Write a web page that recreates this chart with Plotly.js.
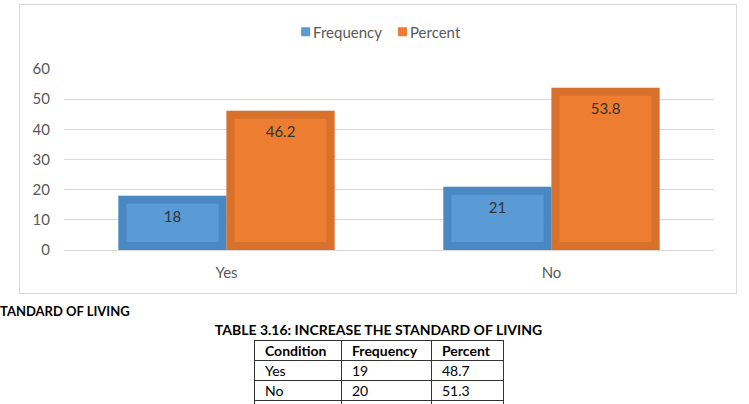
<!DOCTYPE html>
<html>
<head>
<meta charset="utf-8">
<script src="https://cdn.plot.ly/plotly-3.0.1.min.js"></script>
<style>
  html, body { margin: 0; padding: 0; background: #ffffff; width: 749px; height: 404px; overflow: hidden; }
  body { position: relative; font-family: Lato, "Open Sans", "Liberation Sans", sans-serif; }
  #frame { position: absolute; left: 19px; top: 4px; width: 716px; height: 288px; border: 1px solid #d9d9d9; box-sizing: content-box; }
  #chart { position: absolute; left: 0; top: 0; width: 749px; height: 300px; }
  #caption { position: absolute; left: 0; top: 303px; font-weight: bold; font-size: 13px; color: #000; white-space: nowrap; }
  #tabletitle { position: absolute; left: 0; width: 757px; top: 321px; text-align: center; font-weight: bold; font-size: 14px; color: #000; white-space: nowrap; }
  #tbl { position: absolute; left: 254px; top: 340px; border-collapse: collapse; font-size: 14px; color: #000; }
  #tbl td, #tbl th { border: 1px solid #333; height: 20px; padding: 0 0 0 10px; text-align: left; box-sizing: border-box; line-height: 18px; }
  #tbl th { font-weight: bold; }
</style>
</head>
<body>
<div id="frame"></div>
<div id="chart"></div>
<div id="caption">TANDARD OF LIVING</div>
<div id="tabletitle">TABLE 3.16: INCREASE THE STANDARD OF LIVING</div>
<table id="tbl"></table>
<script>
// ---- chart data ----
const categories = ['Yes', 'No'];
const frequency = [18, 21];
const percent = [46.2, 53.8];
const yTicks = [0, 10, 20, 30, 40, 50, 60];

// ---- table data ----
const tableHeader = ['Condition', 'Frequency', 'Percent'];
const tableConditions = ['Yes', 'No', ''];
const tableFrequency = ['19', '20', ''];
const tablePercent = ['48.7', '51.3', ''];
const colWidths = [87, 90, 72];

const FONT = 'Lato, "Open Sans", "Liberation Sans", sans-serif';

const traces = [
  {
    type: 'bar', name: 'Frequency', x: categories, y: frequency,
    marker: { color: '#5b9bd5', line: { color: '#4a88c4', width: 16 } },
    text: frequency.map(String), textposition: 'inside', insidetextanchor: 'end',
    textfont: { family: FONT, size: 15, color: '#333333' }, constraintext: 'none',
    hoverinfo: 'none'
  },
  {
    type: 'bar', name: 'Percent', x: categories, y: percent,
    marker: { color: '#ed7d31', line: { color: '#d8712b', width: 16 } },
    text: percent.map(String), textposition: 'inside', insidetextanchor: 'end',
    textfont: { family: FONT, size: 15, color: '#333333' }, constraintext: 'none',
    hoverinfo: 'none'
  }
];

const layout = {
  width: 749, height: 300,
  margin: { l: 64, r: 35, t: 69, b: 50, pad: 0 },
  paper_bgcolor: 'rgba(0,0,0,0)', plot_bgcolor: 'rgba(0,0,0,0)',
  barmode: 'group', bargap: 0.335, bargroupgap: 0,
  font: { family: FONT, size: 14, color: '#595959' },
  showlegend: true,
  legend: {
    orientation: 'h', x: 0.488, xanchor: 'center', y: 1.204, yanchor: 'middle',
    font: { family: FONT, size: 15, color: '#595959' }, itemwidth: 30,
    bgcolor: 'rgba(0,0,0,0)'
  },
  xaxis: {
    type: 'category', showgrid: false, zeroline: false, showline: false, ticks: '',
    tickfont: { family: FONT, size: 15, color: '#595959' }, ticklabelstandoff: 12,
    fixedrange: true
  },
  yaxis: {
    range: [0, 60], tickvals: yTicks, ticktext: yTicks.map(String),
    showgrid: true, gridcolor: '#d9d9d9', gridwidth: 1,
    zeroline: true, zerolinecolor: '#d9d9d9', zerolinewidth: 1,
    showline: false, ticks: '',
    tickfont: { family: FONT, size: 15, color: '#595959' }, ticklabelstandoff: 13,
    fixedrange: true
  }
};

const LEGEND_CENTER_X = 381;   // visual centre of the legend row (px)
const LABEL_DROP = 8;          // extra downward offset of in-bar labels (px)

function parseTranslate(s) {
  const m = /translate\(\s*([-\d.]+)[ ,]*([-\d.]*)\s*\)/.exec(s || '');
  return m ? [parseFloat(m[1]), parseFloat(m[2] || 0)] : [0, 0];
}

function restyleDom(gd) {
  const ns = 'http://www.w3.org/2000/svg';
  const svg = gd.querySelector('svg.main-svg');
  if (!svg) return;
  let defs = svg.querySelector('defs');
  if (!defs) { defs = document.createElementNS(ns, 'defs'); svg.insertBefore(defs, svg.firstChild); }

  // thick border kept inside each bar (inset bevel look)
  gd.querySelectorAll('.barlayer .trace .point path').forEach((p, i) => {
    const id = 'barInsetClip' + i;
    let cp = defs.querySelector('#' + id);
    if (!cp) { cp = document.createElementNS(ns, 'clipPath'); cp.setAttribute('id', id); defs.appendChild(cp); }
    while (cp.firstChild) cp.removeChild(cp.firstChild);
    const q = document.createElementNS(ns, 'path');
    q.setAttribute('d', p.getAttribute('d'));
    cp.appendChild(q);
    p.setAttribute('clip-path', 'url(#' + id + ')');
  });

  // move in-bar labels a little lower
  gd.querySelectorAll('.barlayer .bartext').forEach(t => {
    if (t.getAttribute('data-dropped')) return;
    const tr = t.getAttribute('transform') || '';
    t.setAttribute('transform', 'translate(0,' + LABEL_DROP + ') ' + tr);
    t.setAttribute('data-dropped', '1');
  });

  // compact legend: small squares right next to their labels
  const items = Array.from(gd.querySelectorAll('.legend .traces'));
  if (!items.length || items[0].getAttribute('data-compact')) return;
  let nextX = null;
  items.forEach((it, i) => {
    const [x, y] = parseTranslate(it.getAttribute('transform'));
    const txt = it.querySelector('text.legendtext');
    const tx = parseFloat(txt.getAttribute('x')) || 40;
    const tw = txt.getComputedTextLength();
    it.querySelectorAll('.legendpoints path').forEach(p => {
      p.setAttribute('d', 'M4.5,4.5H-4.5V-4.5H4.5Z');
      p.setAttribute('transform', 'translate(' + (tx - 7.5) + ',0)');
      p.style.strokeWidth = '0px';
    });
    const newX = (i === 0) ? x : nextX;
    it.setAttribute('transform', 'translate(' + newX + ',' + y + ')');
    nextX = newX + tx + tw + 16 - (tx - 12);
    it.setAttribute('data-compact', '1');
  });
  // centre the row
  const firstSym = items[0].querySelector('.legendpoints path').getBoundingClientRect();
  const lastTxt = items[items.length - 1].querySelector('text.legendtext').getBoundingClientRect();
  const delta = LEGEND_CENTER_X - (firstSym.left + lastTxt.right) / 2;
  items.forEach(it => {
    const [x, y] = parseTranslate(it.getAttribute('transform'));
    it.setAttribute('transform', 'translate(' + (x + delta) + ',' + y + ')');
  });
}

const gd = document.getElementById('chart');
Plotly.newPlot(gd, traces, layout, { displayModeBar: false, staticPlot: true }).then(() => {
  restyleDom(gd);
});

// ---- build table ----
const tbl = document.getElementById('tbl');
const hr = document.createElement('tr');
tableHeader.forEach((h, i) => {
  const th = document.createElement('th'); th.textContent = h; th.style.width = colWidths[i] + 'px'; hr.appendChild(th);
});
tbl.appendChild(hr);
tableConditions.forEach((c, r) => {
  const tr = document.createElement('tr');
  [c, tableFrequency[r], tablePercent[r]].forEach((v, i) => {
    const td = document.createElement('td'); td.textContent = v; td.style.width = colWidths[i] + 'px'; tr.appendChild(td);
  });
  tbl.appendChild(tr);
});
</script>
</body>
</html>
